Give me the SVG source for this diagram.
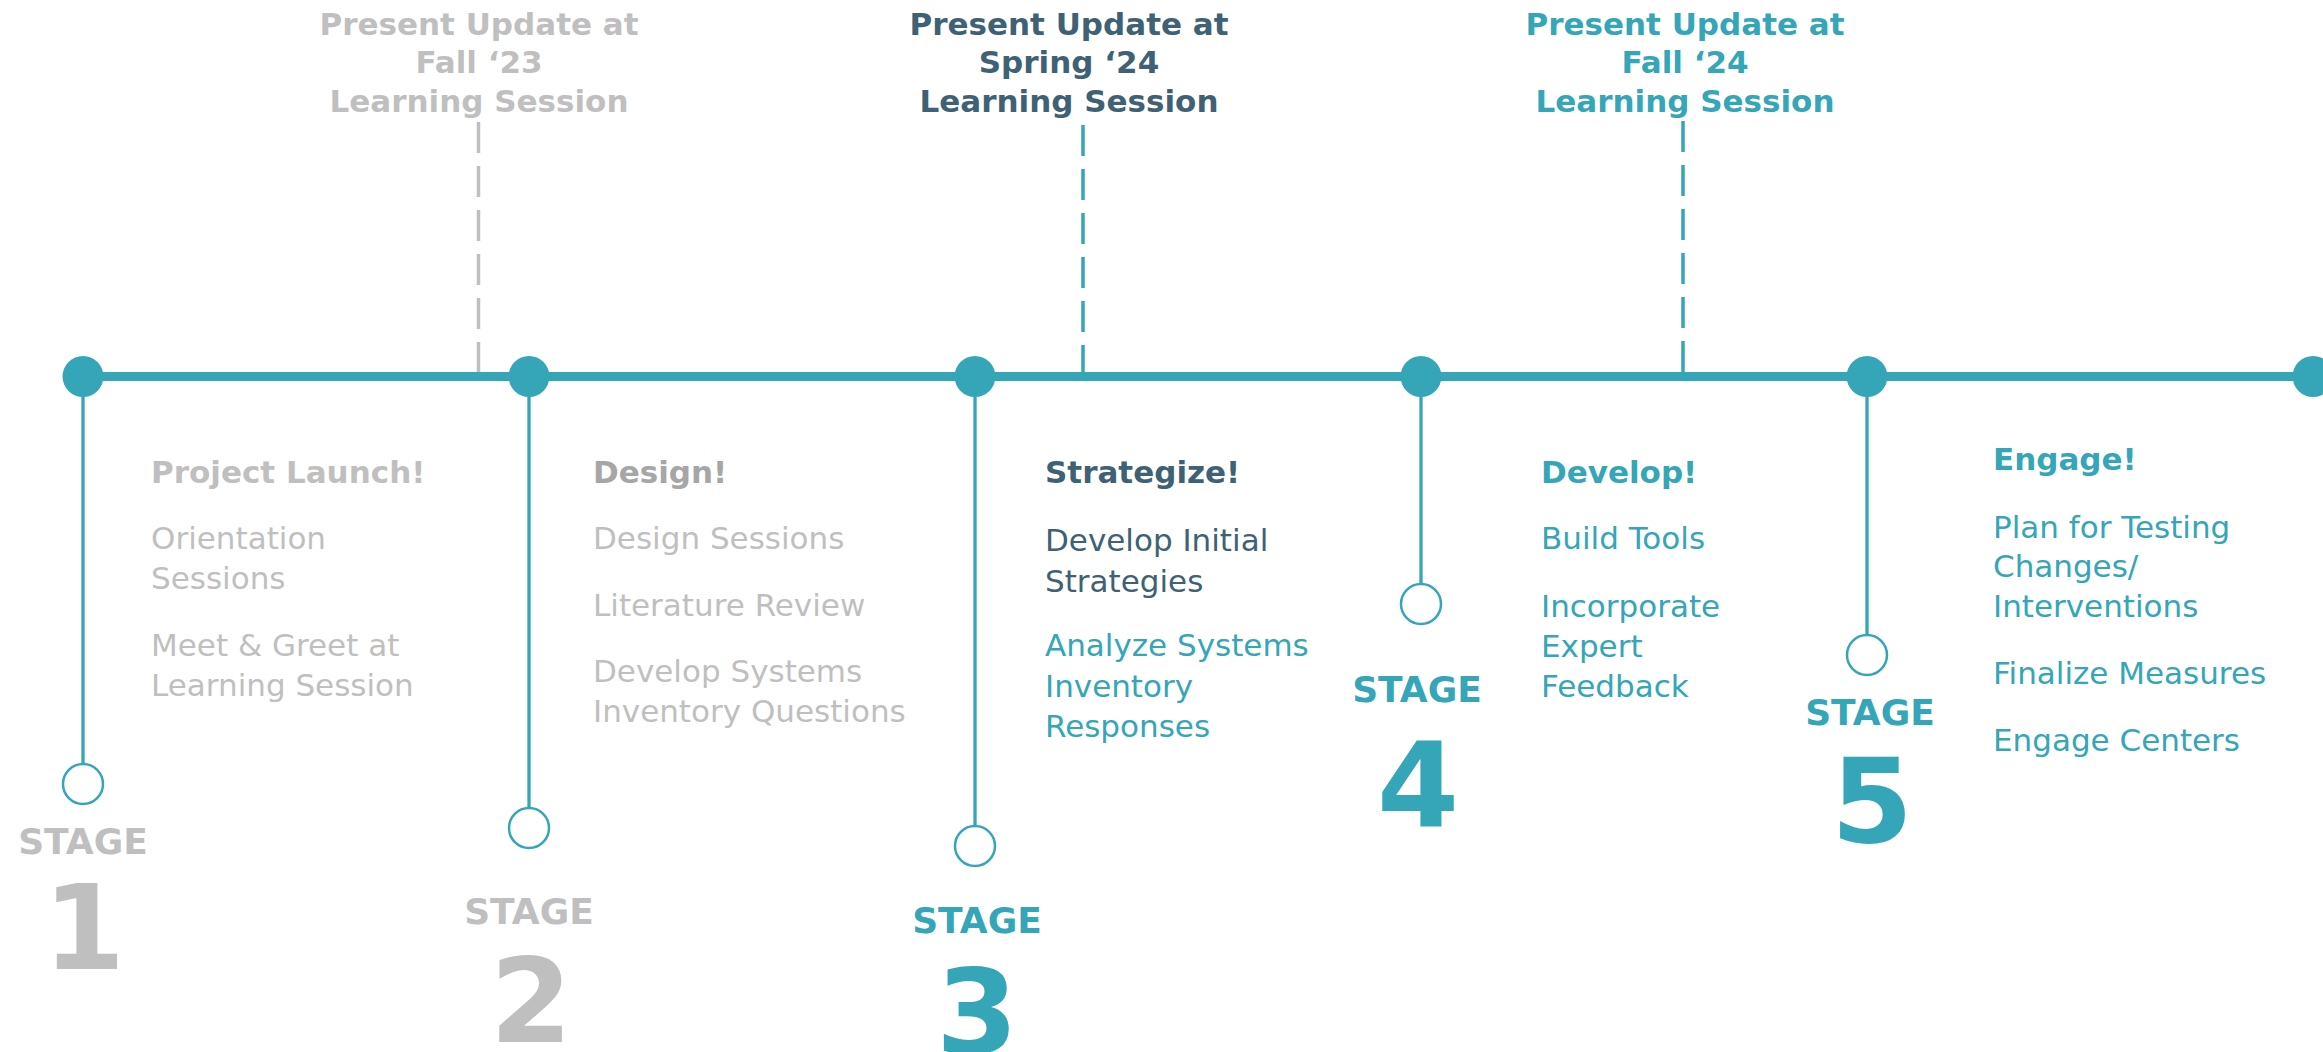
<svg xmlns="http://www.w3.org/2000/svg" width="2323" height="1052" viewBox="0 0 2323 1052">
<style>
text{font-family:"DejaVu Sans","Verdana",sans-serif}
.hd{font-size:31px;font-weight:bold;text-anchor:middle}
.st{font-size:36px;font-weight:bold;text-anchor:middle}
.num{font-size:118px;font-weight:bold;text-anchor:middle}
.b{font-size:31px;font-weight:bold}
.r{font-size:31px}
.gray{fill:#BFBFBF}
.dgray{fill:#A6A6A6}
.dark{fill:#3E6176}
.teal{fill:#35A5B8}
.dash{stroke-width:3.5;stroke-dasharray:31 13;fill:none}
.stem{stroke:#35A5B8;stroke-width:3.3;fill:none}
.ring{stroke:#35A5B8;stroke-width:2.5;fill:#fff}
.dot{fill:#35A5B8}
</style>
<g id="connectors">
<line x1="83" y1="376.5" x2="2313" y2="376.5" stroke="#35A5B8" stroke-width="9"/>
<line class="dash" x1="478.5" y1="122" x2="478.5" y2="372" stroke="#BFBFBF"/>
<line class="dash" x1="1083" y1="125" x2="1083" y2="372" stroke="#35A5B8"/>
<line class="dash" x1="1683" y1="121" x2="1683" y2="372" stroke="#35A5B8"/>
<line class="stem" x1="83" y1="376" x2="83" y2="763"/>
<line class="stem" x1="529" y1="376" x2="529" y2="807"/>
<line class="stem" x1="975" y1="376" x2="975" y2="825"/>
<line class="stem" x1="1421" y1="376" x2="1421" y2="583"/>
<line class="stem" x1="1867" y1="376" x2="1867" y2="635"/>
</g>
<g id="update-fall23">
<text class="hd gray" x="479" y="34.5">Present Update at</text>
<text class="hd gray" x="479" y="73">Fall ‘23</text>
<text class="hd gray" x="479" y="112">Learning Session</text>
</g>
<g id="update-spring24">
<text class="hd dark" x="1069" y="34.5">Present Update at</text>
<text class="hd dark" x="1069" y="73">Spring ‘24</text>
<text class="hd dark" x="1069" y="112">Learning Session</text>
</g>
<g id="update-fall24">
<text class="hd teal" x="1685" y="34.5">Present Update at</text>
<text class="hd teal" x="1685" y="73">Fall ‘24</text>
<text class="hd teal" x="1685" y="112">Learning Session</text>
</g>
<g id="stage1">
<circle class="dot" cx="83" cy="376.5" r="20.5"/>
<circle class="ring" cx="83" cy="784" r="20"/>
<text class="st gray" x="83" y="854">STAGE</text>
<text class="num gray" x="84" y="969">1</text>
<text class="b gray" x="151" y="483">Project Launch!</text>
<text class="r gray" x="151" y="549">Orientation</text>
<text class="r gray" x="151" y="589">Sessions</text>
<text class="r gray" x="151" y="656">Meet &amp; Greet at</text>
<text class="r gray" x="151" y="696">Learning Session</text>
</g>
<g id="stage2">
<circle class="dot" cx="529" cy="376.5" r="20.5"/>
<circle class="ring" cx="529" cy="828" r="20"/>
<text class="st gray" x="529" y="924">STAGE</text>
<text class="num gray" x="531" y="1042">2</text>
<text class="b dgray" x="593" y="483">Design!</text>
<text class="r gray" x="593" y="549">Design Sessions</text>
<text class="r gray" x="593" y="616">Literature Review</text>
<text class="r gray" x="593" y="682">Develop Systems</text>
<text class="r gray" x="593" y="722">Inventory Questions</text>
</g>
<g id="stage3">
<circle class="dot" cx="975" cy="376.5" r="20.5"/>
<circle class="ring" cx="975" cy="846" r="20"/>
<text class="st teal" x="977" y="933">STAGE</text>
<text class="num teal" x="977" y="1053">3</text>
<text class="b dark" x="1045" y="483">Strategize!</text>
<text class="r dark" x="1045" y="551">Develop Initial</text>
<text class="r dark" x="1045" y="592">Strategies</text>
<text class="r teal" x="1045" y="656">Analyze Systems</text>
<text class="r teal" x="1045" y="697">Inventory</text>
<text class="r teal" x="1045" y="737">Responses</text>
</g>
<g id="stage4">
<circle class="dot" cx="1421" cy="376.5" r="20.5"/>
<circle class="ring" cx="1421" cy="604" r="20"/>
<text class="st teal" x="1417" y="702">STAGE</text>
<text class="num teal" x="1418" y="827">4</text>
<text class="b teal" x="1541" y="483">Develop!</text>
<text class="r teal" x="1541" y="549">Build Tools</text>
<text class="r teal" x="1541" y="617">Incorporate</text>
<text class="r teal" x="1541" y="657">Expert</text>
<text class="r teal" x="1541" y="697">Feedback</text>
</g>
<g id="stage5">
<circle class="dot" cx="1867" cy="376.5" r="20.5"/>
<circle class="ring" cx="1867" cy="655" r="20"/>
<text class="st teal" x="1870" y="725">STAGE</text>
<text class="num teal" x="1872" y="842">5</text>
<text class="b teal" x="1993" y="470">Engage!</text>
<text class="r teal" x="1993" y="538">Plan for Testing</text>
<text class="r teal" x="1993" y="577">Changes/</text>
<text class="r teal" x="1993" y="617">Interventions</text>
<text class="r teal" x="1993" y="684">Finalize Measures</text>
<text class="r teal" x="1993" y="751">Engage Centers</text>
</g>
<g id="end-point">
<circle class="dot" cx="2313" cy="376.5" r="20.5"/>
</g>
</svg>
